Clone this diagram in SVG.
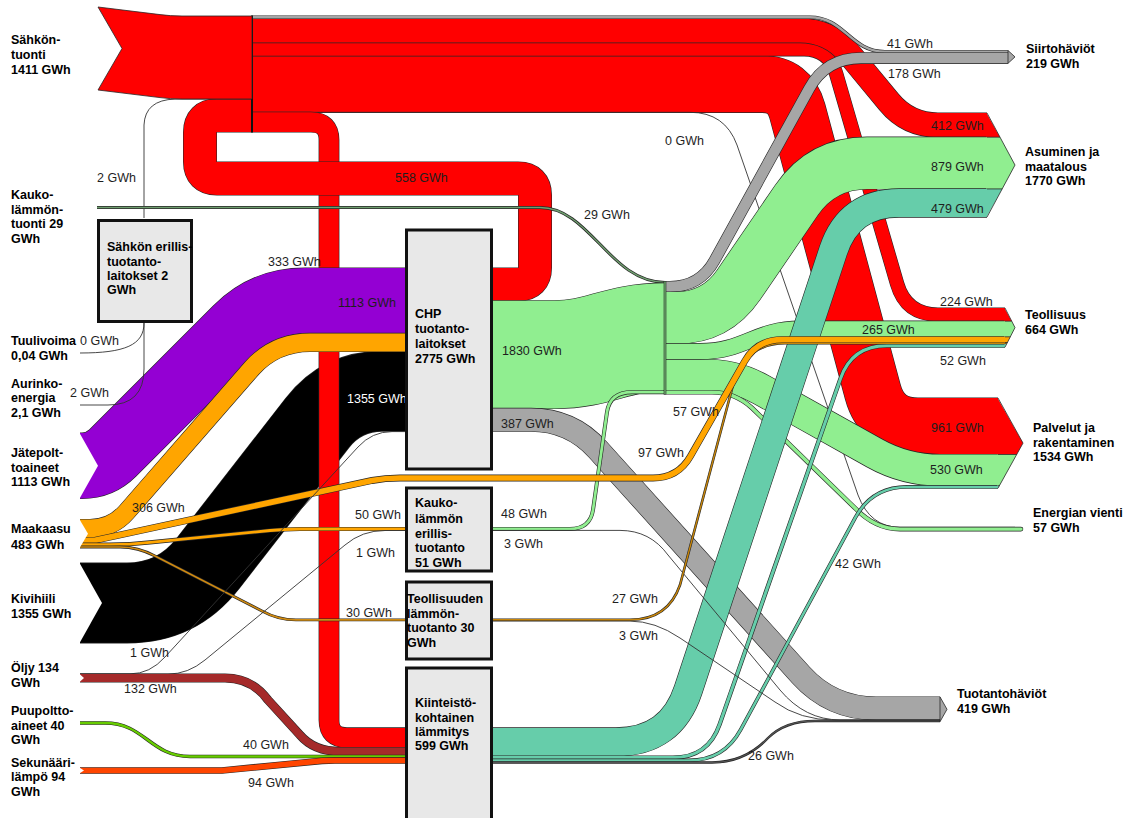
<svg xmlns="http://www.w3.org/2000/svg" xmlns:xlink="http://www.w3.org/1999/xlink" width="1139" height="818" viewBox="0 0 1139 818">
<style>
.ol{stroke:#262626}
.t{font-family:"Liberation Sans",Arial,sans-serif;font-size:12.5px;fill:#1e1e1e}
.b{font-weight:bold;fill:#000}
.w{fill:#fff}
.node{fill:#e8e8e8;stroke:#111;stroke-width:3}
.ln{fill:none;stroke:#333;stroke-width:0.9}
.ah{stroke:none}
.sep{fill:none;stroke:#262626;stroke-width:0.8}
</style>
<defs>
<path id="p41" fill="none" d="M252,17.2 L810,17.2 C845,17.2 850,51.7 885,51.7 L1008,51.7"/>
<path id="p412" fill="none" d="M252,30.5 L800,30.5 Q830,30.5 849.1,53.7 L888.9,101.9 Q908,125.1 938,125.1 L987,125.1"/>
<path id="p224" fill="none" d="M252,49.2 L804,49.2 Q829,49.2 836,73.2 L897.1,283.8 Q906,314.6 938,314.6 L1005,314.6"/>
<path id="p961" fill="none" d="M252,84.05 L762,84.05 Q790,84.05 797.3,111.1 L872.7,391.5 Q882,426.3 918,426.3 L998,426.3"/>
<path id="p333" fill="none" d="M252,122.1 L311,122.1 Q329,122.1 329,140 L329,720 Q329,737.7 347,737.7 L406,737.7"/>
<path id="p558" fill="none" d="M491,284.4 L518,284.4 Q535,284.4 535,267.4 L535,195.5 Q535,178.5 518,178.5 L217,178.5 Q200,178.5 200,161.5 L200,132.5 Q200,115.5 217,115.5 L252,115.5"/>
<path id="p178" fill="none" d="M665,286.75 L670,286.75 Q700,286.75 714.5,260.5 L809.1,88.7 Q826,58.1 861,58.1 L1008,58.1"/>
<path id="p29" fill="none" d="M97,207.5 L540,207.5 C590,207.5 610,282.35 665,282.35"/>
<path id="p1830" fill="none" d="M491,354.6 L555,354.6 C600,354.6 615,337 665,337"/>
<path id="p48" fill="none" d="M491,528.9 L570,528.9 Q590,528.9 593,510 L607,412 Q610,392.2 632,392.2 L665,392.2"/>
<path id="p879" fill="none" d="M665,317.85 L676,317.85 Q716,317.85 738.6,284.85 L796.6,200.15 Q822,163.05 867,163.05 L987,163.05"/>
<path id="p265" fill="none" d="M665,351.5 L700,351.5 C745,351.5 755,329 800,329 L1005,329"/>
<path id="p530" fill="none" d="M665,374.9 L705,374.9 Q735,374.9 761.2,389.6 L874.5,453 Q905,470.1 940,470.1 L998,470.1"/>
<path id="p57" fill="none" d="M665,392.2 L712,392.2 Q735,392.2 752,408 L855,508 Q875,529.1 900,529.1 L1021,529.1"/>
<path id="p479" fill="none" d="M491,742 L616,742 Q671,742 688.2,689.8 L833.3,250.5 Q849,203 899,203 L987,203"/>
<path id="p52" fill="none" d="M491,757.65 L673,757.65 Q708,757.65 719.55,724.6 L840.45,378.65 Q852,345.65 887,345.65 L1005,345.65"/>
<path id="p42" fill="none" d="M491,760.45 L689,760.45 Q724,760.45 740.7,729.7 L855.3,517.7 Q872,486.95 907,486.95 L998,486.95"/>
<path id="p26" fill="none" d="M491,762.45 L712,762.45 Q745,762.45 768,738 Q785,720.95 815,720.95 L940,720.95"/>
<path id="p27" fill="none" d="M491,619.8 L630,619.8 Q668,619.8 680,585 L733,385 Q745,343.3 785,343.3 L1005,343.3"/>
<path id="p387" fill="none" d="M491,419.8 L531,419.8 Q571,419.8 597.8,449.5 L800.9,675 Q831,708.4 876,708.4 L940,708.4"/>
<path id="p1113" fill="none" d="M80,465.7 L82,465.7 Q100,465.7 112.7,453 L236.7,329 Q265,300.7 305,300.7 L406,300.7"/>
<path id="p306" fill="none" d="M80,528.5 L90,528.5 Q112,528.5 126.5,512 L251.9,368.1 Q275,342.4 310,342.4 L406,342.4"/>
<path id="p1355" fill="none" d="M80,603 L127,603 Q177,603 207.8,563.6 L317.4,422.8 Q342,391.25 382,391.25 L406,391.25"/>
<path id="p97" fill="none" d="M80,540.35 L95,540.35 L372,480.5 Q385,478 400,478 L653,478 Q678,478 690.4,456.3 L744.6,361.4 Q757,339.65 782,339.65 L1005,339.65"/>
<path id="p50" fill="none" d="M80,544.65 L110,544.65 Q130,544.65 150,542.4 L270,530.5 Q285,528.95 300,528.95 L406,528.95"/>
<path id="p30" fill="none" d="M80,547 L120,547 Q138,547 155,556 L262,611 Q278,619.9 296,619.9 L406,619.9"/>
<path id="p132" fill="none" d="M80,678 L225,678 Q252,678 268,700 L300,735 Q314,751.4 340,751.4 L406,751.4"/>
<path id="p40" fill="none" d="M80,723 L105,723 C145,723 150,756.5 190,756.5 L406,756.5"/>
<path id="p94" fill="none" d="M80,770.5 L222,770.5 L322,760.8 Q327,760.4 335,760.4 L406,760.4"/>
</defs>

<rect width="1139" height="818" fill="#fff"/>

<g id="connectors">
<!-- electricity to consumers -->
<use href="#p961" class="ol" stroke-width="57.7"/><use href="#p961" stroke="#ff0000" stroke-width="56.5"/>
<use href="#p224" class="ol" stroke-width="14.4"/><use href="#p224" stroke="#ff0000" stroke-width="13.2"/>
<use href="#p412" class="ol" stroke-width="25.4"/><use href="#p412" stroke="#ff0000" stroke-width="24.2"/>
<use href="#p41" class="ol" stroke-width="3.6"/><use href="#p41" stroke="#a6a6a6" stroke-width="2.4"/>
<path class="ln" d="M252,112.3 L690,112.3 Q725,112.3 737,145 L858,495 Q870,527.3 900,527.3 L1015,527.3"/>
<use href="#p178" class="ol" stroke-width="11.7"/><use href="#p178" stroke="#a6a6a6" stroke-width="10.5"/>

<!-- fuels into CHP -->
<use href="#p1355" class="ol" stroke-width="80.9"/><use href="#p1355" stroke="#000" stroke-width="79.7"/>
<use href="#p333" class="ol" stroke-width="20.8"/><use href="#p333" stroke="#ff0000" stroke-width="19.6"/>
<use href="#p558" class="ol" stroke-width="34"/><use href="#p558" stroke="#ff0000" stroke-width="32.8"/>
<use href="#p1113" class="ol" stroke-width="66.6"/><use href="#p1113" stroke="#9400d3" stroke-width="65.4"/>
<use href="#p306" class="ol" stroke-width="19.2"/><use href="#p306" stroke="#ffa500" stroke-width="18"/>

<!-- small sources -->
<path class="ln" d="M144,218 L144,125 Q145,100 175,99.05 L252,99.05"/>
<path class="ln" d="M80,353 C125,353 144,345 144,323"/>
<path class="ln" d="M80,405 L108,405 Q144,405 144,369 L144,323"/>
<use href="#p29" class="ol" stroke-width="2.9"/><use href="#p29" stroke="#6f9f6f" stroke-width="1.4"/>

<!-- district heat -->
<use href="#p1830" class="ol" stroke-width="108.8"/><use href="#p1830" stroke="#90ee90" stroke-width="107.6"/>
<use href="#p879" class="ol" stroke-width="52.9"/><use href="#p879" stroke="#90ee90" stroke-width="51.7"/>
<use href="#p530" class="ol" stroke-width="32.4"/><use href="#p530" stroke="#90ee90" stroke-width="31.2"/>
<use href="#p265" class="ol" stroke-width="16.8"/><use href="#p265" stroke="#90ee90" stroke-width="15.6"/>
<use href="#p57" class="ol" stroke-width="4.6" stroke-linecap="round"/><use href="#p57" stroke="#90ee90" stroke-width="3.4" stroke-linecap="round"/>

<!-- losses -->
<use href="#p387" class="ol" stroke-width="24"/><use href="#p387" stroke="#a6a6a6" stroke-width="22.8"/>
<use href="#p48" class="ol" stroke-width="4"/><use href="#p48" stroke="#90ee90" stroke-width="2.8"/>

<!-- building-specific heating -->
<use href="#p479" class="ol" stroke-width="29.4"/><use href="#p479" stroke="#66cdaa" stroke-width="28.2"/>
<use href="#p52" class="ol" stroke-width="4.3"/><use href="#p52" stroke="#66cdaa" stroke-width="3.1"/>
<use href="#p42" class="ol" stroke-width="3.7"/><use href="#p42" stroke="#66cdaa" stroke-width="2.5"/>
<use href="#p26" class="ol" stroke-width="2.4"/><use href="#p26" stroke="#555" stroke-width="1.2"/>
<path class="ln" d="M491,530.4 L620,530.4 Q650,530.4 668,555 L780,690 Q805,719.9 840,719.9 L940,719.9"/>
<path class="ln" d="M491,621.1 L630,621.1 Q655,621.1 680,638 L775,702 Q800,720.1 835,720.1 L940,720.1"/>

<!-- natural gas branches -->
<use href="#p27" class="ol" stroke-width="2.6"/><use href="#p27" stroke="#c8860a" stroke-width="1.4"/>
<use href="#p97" class="ol" stroke-width="6.9"/><use href="#p97" stroke="#ffa500" stroke-width="5.7"/>
<use href="#p50" class="ol" stroke-width="4.1"/><use href="#p50" stroke="#ffa500" stroke-width="2.9"/>
<use href="#p30" class="ol" stroke-width="2.8"/><use href="#p30" stroke="#d08a10" stroke-width="1.6"/>

<!-- oil, wood, secondary heat -->
<path class="ln" d="M80,673.9 L130,673.9 Q150,673.9 165,657 L358,447 Q372,431.6 392,431.6 L406,431.6"/>
<path class="ln" d="M80,674.1 L168,674.1 Q188,674.1 205,660 L345,545 Q362,530.5 385,530.5 L406,530.5"/>
<use href="#p132" class="ol" stroke-width="9"/><use href="#p132" stroke="#a52a2a" stroke-width="7.8"/>
<use href="#p40" class="ol" stroke-width="3.5"/><use href="#p40" stroke="#66cc00" stroke-width="2.35"/>
<use href="#p94" class="ol" stroke-width="6.7"/><use href="#p94" stroke="#ff4500" stroke-width="5.5"/>

<!-- notches of source tails -->
<polygon points="79,432 98,465.7 79,499.4" fill="#fff"/>
<polygon points="79,518.5 88,533.7 79,548.9" fill="#fff"/>
<polygon points="79,562 102,603 79,644" fill="#fff"/>
<polygon points="79,673.4 84,677.9 79,682.4" fill="#fff"/>
<polygon points="79,767.3 84,770.5 79,773.7" fill="#fff"/>

<!-- buses -->
<line x1="252" y1="15.5" x2="252" y2="132.5" stroke="#111" stroke-width="2"/>
<line x1="665" y1="281" x2="665" y2="394.4" stroke="#222" stroke-width="2.6"/>
<line x1="665" y1="281.5" x2="665" y2="394" stroke="#90ee90" stroke-width="1"/>

<!-- value labels -->
<g class="t">
<text x="887" y="48">41 GWh</text>
<text x="888" y="78">178 GWh</text>
<text x="931" y="130">412 GWh</text>
<text x="931" y="171">879 GWh</text>
<text x="931" y="213">479 GWh</text>
<text x="940" y="306">224 GWh</text>
<text x="862" y="334">265 GWh</text>
<text x="940" y="365">52 GWh</text>
<text x="931" y="432">961 GWh</text>
<text x="930" y="474">530 GWh</text>
<text x="835" y="568">42 GWh</text>
<text x="748" y="760">26 GWh</text>
<text x="665" y="145">0 GWh</text>
<text x="395" y="182">558 GWh</text>
<text x="584" y="219">29 GWh</text>
<text x="97" y="182">2 GWh</text>
<text x="268" y="266">333 GWh</text>
<text x="338" y="307">1113 GWh</text>
<text x="80" y="345">0 GWh</text>
<text x="70" y="397">2 GWh</text>
<text x="347" y="403" class="t w">1355 GWh</text>
<text x="502" y="355">1830 GWh</text>
<text x="501" y="428">387 GWh</text>
<text x="673" y="416">57 GWh</text>
<text x="638" y="457">97 GWh</text>
<text x="501" y="518">48 GWh</text>
<text x="504" y="548">3 GWh</text>
<text x="132" y="512">306 GWh</text>
<text x="355" y="519">50 GWh</text>
<text x="356" y="557">1 GWh</text>
<text x="346" y="617">30 GWh</text>
<text x="130" y="657">1 GWh</text>
<text x="124" y="693">132 GWh</text>
<text x="243" y="749">40 GWh</text>
<text x="248" y="787">94 GWh</text>
<text x="612" y="603">27 GWh</text>
<text x="619" y="640">3 GWh</text>
</g>
</g>

<g id="node-sahkon-tuonti">
<path d="M98,7 L160,14.6 Q170,16 182,16 L252,16 L252,99 L182,99 Q170,99 160,97.6 L98,90 L122,48.5 Z" fill="#ff0000" stroke="#262626" stroke-width="0.8"/>
<text class="t b" x="11" y="44">Sähkön-</text>
<text class="t b" x="11" y="59">tuonti</text>
<text class="t b" x="11" y="74">1411 GWh</text>
</g>

<g id="node-kaukolammon-tuonti">
<text class="t b" x="11" y="199">Kauko-</text>
<text class="t b" x="11" y="213.5">lämmön-</text>
<text class="t b" x="11" y="228">tuonti 29</text>
<text class="t b" x="11" y="242.5">GWh</text>
</g>

<g id="node-sahkon-erillistuotanto">
<rect class="node" x="98.5" y="220.5" width="93" height="101"/>
<text class="t b" x="107" y="251">Sähkön erillis-</text>
<text class="t b" x="107" y="266">tuotanto-</text>
<text class="t b" x="107" y="280">laitokset 2</text>
<text class="t b" x="107" y="294">GWh</text>
</g>

<g id="node-tuulivoima">
<text class="t b" x="11" y="345">Tuulivoima</text>
<text class="t b" x="11" y="360">0,04 GWh</text>
</g>
<g id="node-aurinkoenergia">
<text class="t b" x="11" y="388">Aurinko-</text>
<text class="t b" x="11" y="402">energia</text>
<text class="t b" x="11" y="417">2,1 GWh</text>
</g>
<g id="node-jatepolttoaineet">
<text class="t b" x="11" y="457">Jätepolt-</text>
<text class="t b" x="11" y="472">toaineet</text>
<text class="t b" x="11" y="486">1113 GWh</text>
</g>
<g id="node-maakaasu">
<text class="t b" x="11" y="533">Maakaasu</text>
<text class="t b" x="11" y="549">483 GWh</text>
</g>
<g id="node-kivihiili">
<text class="t b" x="11" y="603">Kivihiili</text>
<text class="t b" x="11" y="618">1355 GWh</text>
</g>
<g id="node-oljy">
<text class="t b" x="11" y="672">Öljy 134</text>
<text class="t b" x="11" y="687">GWh</text>
</g>
<g id="node-puupolttoaineet">
<text class="t b" x="11" y="715">Puupoltto-</text>
<text class="t b" x="11" y="730">aineet  40</text>
<text class="t b" x="11" y="744">GWh</text>
</g>
<g id="node-sekundaarilampo">
<text class="t b" x="11" y="767">Sekunääri-</text>
<text class="t b" x="11" y="781">lämpö 94</text>
<text class="t b" x="11" y="796">GWh</text>
</g>

<g id="node-chp">
<rect class="node" x="406.5" y="230" width="85" height="239"/>
<text class="t b" x="415" y="318">CHP</text>
<text class="t b" x="415" y="333">tuotanto-</text>
<text class="t b" x="415" y="348">laitokset</text>
<text class="t b" x="415" y="363">2775 GWh</text>
</g>
<g id="node-kaukolammon-erillistuotanto">
<rect class="node" x="406.5" y="488" width="85" height="83"/>
<text class="t b" x="415" y="507">Kauko-</text>
<text class="t b" x="415" y="523">lämmön</text>
<text class="t b" x="415" y="538">erillis-</text>
<text class="t b" x="415" y="552">tuotanto</text>
<text class="t b" x="415" y="567">51 GWh</text>
</g>
<g id="node-teollisuuden-lammontuotanto">
<rect class="node" x="406.5" y="582" width="85" height="77"/>
<text class="t b" x="407" y="603">Teollisuuden</text>
<text class="t b" x="407" y="618">lämmön-</text>
<text class="t b" x="407" y="632">tuotanto 30</text>
<text class="t b" x="407" y="647">GWh</text>
</g>
<g id="node-kiinteistokohtainen">
<rect class="node" x="406.5" y="668" width="85" height="160"/>
<text class="t b" x="415" y="707">Kiinteistö-</text>
<text class="t b" x="415" y="722">kohtainen</text>
<text class="t b" x="415" y="736">lämmitys</text>
<text class="t b" x="415" y="750">599 GWh</text>
</g>

<g id="node-siirtohaviot">
<polygon points="1008,50.5 1015,56.9 1008,63.35" fill="#a6a6a6" stroke="#262626" stroke-width="0.8"/>
<text class="t b" x="1026" y="53">Siirtohäviöt</text>
<text class="t b" x="1026" y="68">219 GWh</text>
</g>
<g id="node-asuminen">
<polygon class="ah" points="986.5,113 1000,137.2 986.5,137.2" fill="#ff0000"/>
<polygon class="ah" points="986.5,137.2 1000,137.2 1015,165.05 1002.2,188.9 986.5,188.9" fill="#90ee90"/>
<polygon class="ah" points="986.5,188.9 1002.2,188.9 986.5,217.1" fill="#66cdaa"/>
<polyline class="sep" points="987,113 1015,165.05 987,217.1"/>
<path class="sep" d="M987,137.2 H1000 M987,188.9 H1002.2"/>
<text class="t b" x="1025" y="156">Asuminen ja</text>
<text class="t b" x="1025" y="171">maatalous</text>
<text class="t b" x="1025" y="185">1770 GWh</text>
</g>
<g id="node-teollisuus">
<polygon class="ah" points="1004.5,308 1011.7,321.2 1004.5,321.2" fill="#ff0000"/>
<polygon class="ah" points="1004.5,321.2 1011.7,321.2 1015,327.6 1010.3,336.8 1004.5,336.8" fill="#90ee90"/>
<polygon class="ah" points="1004.5,336.8 1010.3,336.8 1007.4,342.5 1004.5,342.5" fill="#ffa500"/>
<polygon class="ah" points="1004.5,342.5 1007.4,342.5 1006.6,344.1 1004.5,344.1" fill="#8a5a10"/>
<polygon class="ah" points="1004.5,344.1 1006.6,344.1 1004.5,347.2" fill="#66cdaa"/>
<polyline class="sep" points="1005,308 1015,327.6 1005,347.2"/>
<path class="sep" d="M1005,321.2 H1011.7 M1005,336.8 H1010.3 M1005,342.5 H1007.4"/>
<text class="t b" x="1025" y="319">Teollisuus</text>
<text class="t b" x="1025" y="334">664 GWh</text>
</g>
<g id="node-palvelut">
<polygon class="ah" points="997.5,398 1023,443.1 1016.7,454.5 997.5,454.5" fill="#ff0000"/>
<polygon class="ah" points="997.5,454.5 1016.7,454.5 999.4,485.7 997.5,485.7" fill="#90ee90"/>
<polygon class="ah" points="997.5,485.7 999.4,485.7 997.5,488.2" fill="#66cdaa"/>
<polyline class="sep" points="998,398 1023,443.1 998,488.2"/>
<path class="sep" d="M998,454.5 H1016.7 M998,485.7 H999.4"/>
<text class="t b" x="1033" y="432">Palvelut ja</text>
<text class="t b" x="1033" y="447">rakentaminen</text>
<text class="t b" x="1033" y="461">1534 GWh</text>
</g>
<g id="node-energian-vienti">
<text class="t b" x="1033" y="517">Energian vienti</text>
<text class="t b" x="1033" y="532">57 GWh</text>
</g>
<g id="node-tuotantohaviot">
<polygon points="940,696.9 947,709.3 940,721.7" fill="#a6a6a6" stroke="#262626" stroke-width="0.8"/>
<text class="t b" x="957" y="698">Tuotantohäviöt</text>
<text class="t b" x="957" y="713">419 GWh</text>
</g>
</svg>
